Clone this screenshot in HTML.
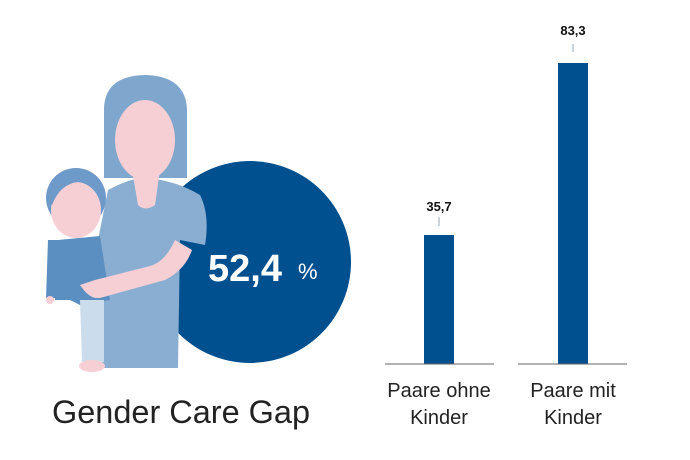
<!DOCTYPE html>
<html><head><meta charset="utf-8"><style>
body{margin:0;background:#fff;width:690px;height:460px;overflow:hidden}
svg{display:block}
text{font-family:"Liberation Sans",sans-serif}
</style></head><body>
<svg width="690" height="460" viewBox="0 0 690 460">
<circle cx="250" cy="262" r="101" fill="#00508f"/>
<text x="208" y="281" fill="#fff" font-size="38" font-weight="bold">52,4</text>
<text x="298" y="279" fill="#fff" font-size="22">%</text>
<path d="M104 110 Q104 76 145 75 Q186 76 187 110 L187 178 L104 178 Z" fill="#7fa7cd"/>
<path d="M108 190 Q130 178 145 178 Q175 180 200 195 Q210 215 205 245 L180 240 L178 368 L100 368 L98 240 Z" fill="#8aaed1"/>
<path d="M132 170 L160 170 L155 205 Q145 212 138 205 Z" fill="#f6cfd4"/>
<ellipse cx="145" cy="140" rx="30" ry="40" fill="#f6cfd4"/>
<path d="M116 115 Q120 85 150 90 Q175 95 178 125 L178 110 Q175 82 145 82 Q115 84 116 115 Z" fill="#7fa7cd"/>
<ellipse cx="76" cy="198" rx="30" ry="30" fill="#6d9ac8"/>
<path d="M58 240 L100 236 L110 300 L80 305 L70 300 L55 300 Z" fill="#5b8fc2"/>
<path d="M80 300 L104 300 L104 362 L82 362 Z" fill="#cbdcec"/>
<ellipse cx="92" cy="366" rx="13" ry="6" fill="#f6cfd4"/>
<ellipse cx="76" cy="210" rx="25" ry="28" fill="#f6cfd4"/>
<path d="M48 200 Q50 172 78 172 Q100 172 106 195 Q95 182 78 182 Q60 184 52 205 Z" fill="#6d9ac8"/>
<path d="M48 240 L60 240 L56 298 L46 298 Z" fill="#5b8fc2"/>
<circle cx="50" cy="300" r="4" fill="#f6cfd4"/>
<path d="M80 285 Q90 300 100 298 L165 280 Q185 270 192 250 L175 240 Q165 262 150 266 L95 280 Z" fill="#f6cfd4"/>
<text x="52" y="423" font-size="32" fill="#222" textLength="258" lengthAdjust="spacingAndGlyphs">Gender Care Gap</text>
<rect x="424" y="235" width="30" height="129" fill="#00508f"/>
<rect x="558" y="63" width="30" height="301" fill="#00508f"/>
<line x1="385" y1="364" x2="494" y2="364" stroke="#666" stroke-width="1"/>
<line x1="518" y1="364" x2="627" y2="364" stroke="#666" stroke-width="1"/>
<line x1="439" y1="217" x2="439" y2="226" stroke="#9ab" stroke-width="1"/>
<line x1="573" y1="44" x2="573" y2="52" stroke="#9ab" stroke-width="1"/>
<text x="439" y="211" font-size="13" font-weight="bold" text-anchor="middle" fill="#111">35,7</text>
<text x="573" y="35" font-size="13" font-weight="bold" text-anchor="middle" fill="#111">83,3</text>
<text x="439" y="397" font-size="20" text-anchor="middle" fill="#222">Paare ohne</text>
<text x="439" y="424" font-size="20" text-anchor="middle" fill="#222">Kinder</text>
<text x="573" y="397" font-size="20" text-anchor="middle" fill="#222">Paare mit</text>
<text x="573" y="424" font-size="20" text-anchor="middle" fill="#222">Kinder</text>
</svg>
</body></html>
